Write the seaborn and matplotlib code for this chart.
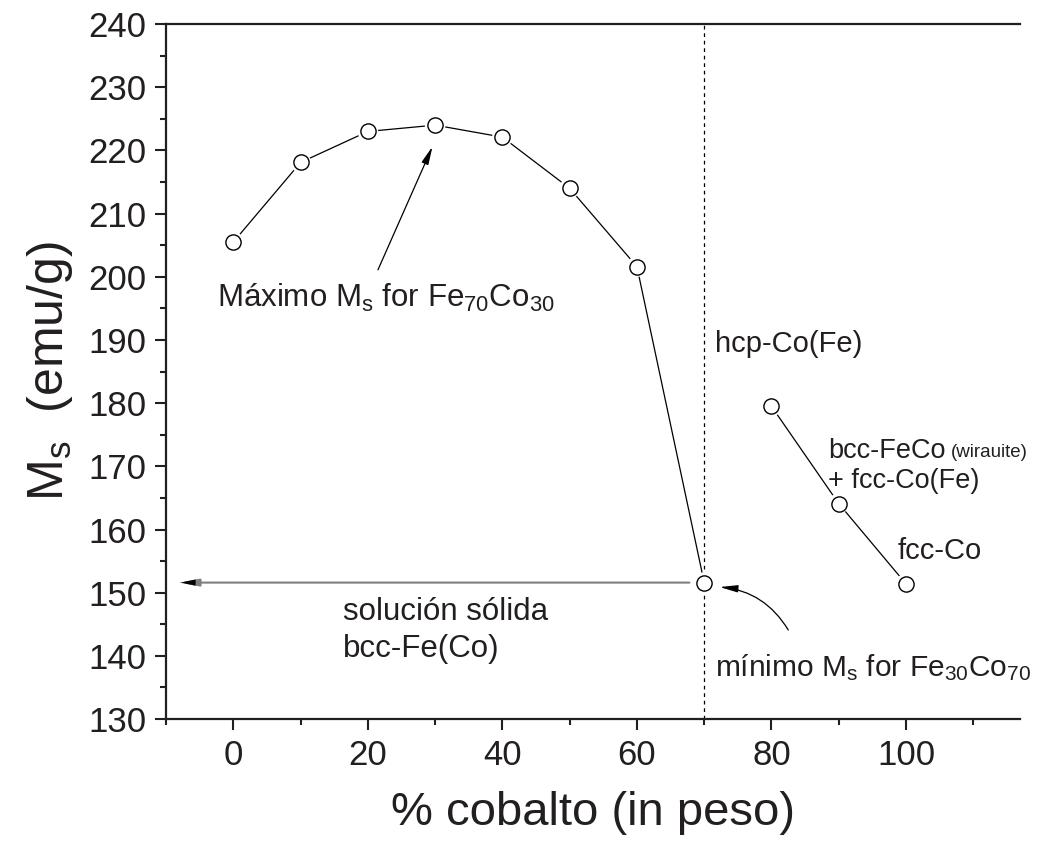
import matplotlib
matplotlib.use("Agg")
import matplotlib.pyplot as plt
import seaborn as sns
import pandas as pd
from matplotlib.ticker import MultipleLocator

# Data
co_bcc = [0, 10, 20, 30, 40, 50, 60, 70]
ms_bcc = [205.5, 218.1, 223.0, 224.0, 222.1, 214.0, 201.6, 151.6]
co_hcp = [80, 90, 100]
ms_hcp = [179.5, 164.1, 151.4]

x_ticks = [0, 20, 40, 60, 80, 100]
y_ticks = [130, 140, 150, 160, 170, 180, 190, 200, 210, 220, 230, 240]

sns.set_theme(style="ticks")
plt.rcParams['font.family'] = ['Liberation Sans', 'DejaVu Sans']
plt.rcParams['mathtext.fontset'] = 'custom'
plt.rcParams['mathtext.rm'] = 'Liberation Sans'
plt.rcParams['mathtext.it'] = 'Liberation Sans'
plt.rcParams['mathtext.default'] = 'regular'

fig = plt.figure(figsize=(10.38, 8.43), dpi=100)
ax = fig.add_axes([0.16, 0.147, 0.823, 0.8245])

df1 = pd.DataFrame({"co": co_bcc, "ms": ms_bcc})
df2 = pd.DataFrame({"co": co_hcp, "ms": ms_hcp})
for d in (df1, df2):
    sns.lineplot(data=d, x="co", y="ms", ax=ax, color="black", linewidth=0.9,
                 sort=False, zorder=2)
    # white halo so the line stops short of each circle
    sns.scatterplot(data=d, x="co", y="ms", ax=ax, s=220, color="white",
                    edgecolor="none", linewidth=0, zorder=3)
    sns.scatterplot(data=d, x="co", y="ms", ax=ax, s=120, color="white",
                    edgecolor="black", linewidth=1.0, zorder=4)

ax.axvline(70, color="black", linestyle=(0, (3, 3)), linewidth=0.9, zorder=1)

ax.set_xlim(-10, 117)
ax.set_ylim(130, 240)
ax.set_xticks(x_ticks)
ax.set_yticks(y_ticks)
ax.xaxis.set_minor_locator(MultipleLocator(10))
ax.yaxis.set_minor_locator(MultipleLocator(5))

for s in ["left", "bottom", "top"]:
    ax.spines[s].set_linewidth(1.6)
    ax.spines[s].set_color("#231f20")
ax.spines["right"].set_visible(False)

ax.tick_params(axis="both", which="major", direction="out", length=8, width=1.5,
               labelsize=25, colors="#231f20", pad=6)
ax.tick_params(axis="both", which="minor", direction="out", length=4, width=1.5,
               colors="#231f20")
ax.tick_params(axis="x", which="both", top=False)

ax.set_xlabel("% cobalto (in peso)", fontsize=34, color="#231f20", labelpad=14)
ax.set_ylabel("M$_s$  (emu/g)", fontsize=36, color="#231f20", labelpad=10)

tc = "#231f20"
fs = 22.5
# Maximum annotation
ax.annotate("", xy=(29.6, 220.6), xytext=(21.5, 201.1),
            arrowprops=dict(arrowstyle="-|>,head_length=0.9,head_width=0.18",
                            color="black", lw=0.9, shrinkA=0, shrinkB=0))
ax.text(-2.4, 196.7, "Máximo M$_s$ for Fe$_{70}$Co$_{30}$", fontsize=fs, color=tc,
        va="center", ha="left")

# Horizontal arrow
ax.annotate("", xy=(-7.9, 151.6), xytext=(67.8, 151.6),
            arrowprops=dict(arrowstyle="-|>,head_length=0.9,head_width=0.18",
                            color="#7f7f7f", lw=1.5, shrinkA=0, shrinkB=0))
ax.annotate("", xy=(-7.9, 151.6), xytext=(-6.0, 151.6),
            arrowprops=dict(arrowstyle="-|>,head_length=0.9,head_width=0.18",
                            color="black", lw=0.1, shrinkA=0, shrinkB=0))
ax.text(16.3, 147.0, "solución sólida", fontsize=fs, color=tc, va="center", ha="left")
ax.text(16.3, 141.1, "bcc-Fe(Co)", fontsize=fs, color=tc, va="center", ha="left")

# Minimum annotation
ax.annotate("", xy=(72.3, 150.9), xytext=(82.5, 144.1),
            arrowprops=dict(arrowstyle="-|>,head_length=0.9,head_width=0.18",
                            color="black", lw=0.9, shrinkA=0, shrinkB=0,
                            connectionstyle="arc3,rad=0.25"))
ax.text(71.6, 138.2, "mínimo M$_s$ for Fe$_{30}$Co$_{70}$", fontsize=21.5, color=tc,
        va="center", ha="left")

ax.text(71.6, 189.3, "hcp-Co(Fe)", fontsize=21, color=tc, va="center", ha="left")
t_bcc = ax.text(88.4, 172.4, "bcc-FeCo", fontsize=19.5, color=tc, va="center", ha="left")
ax.annotate("(wirauite)", xy=(1, 0.45), xycoords=t_bcc, xytext=(4, 0),
            textcoords="offset points", fontsize=13.5, color=tc, va="center", ha="left")
ax.text(88.4, 167.6, "+ fcc-Co(Fe)", fontsize=19.5, color=tc, va="center", ha="left")
ax.text(98.7, 156.6, "fcc-Co", fontsize=21, color=tc, va="center", ha="left")

fig.savefig("out.png", dpi=100, facecolor="white")
